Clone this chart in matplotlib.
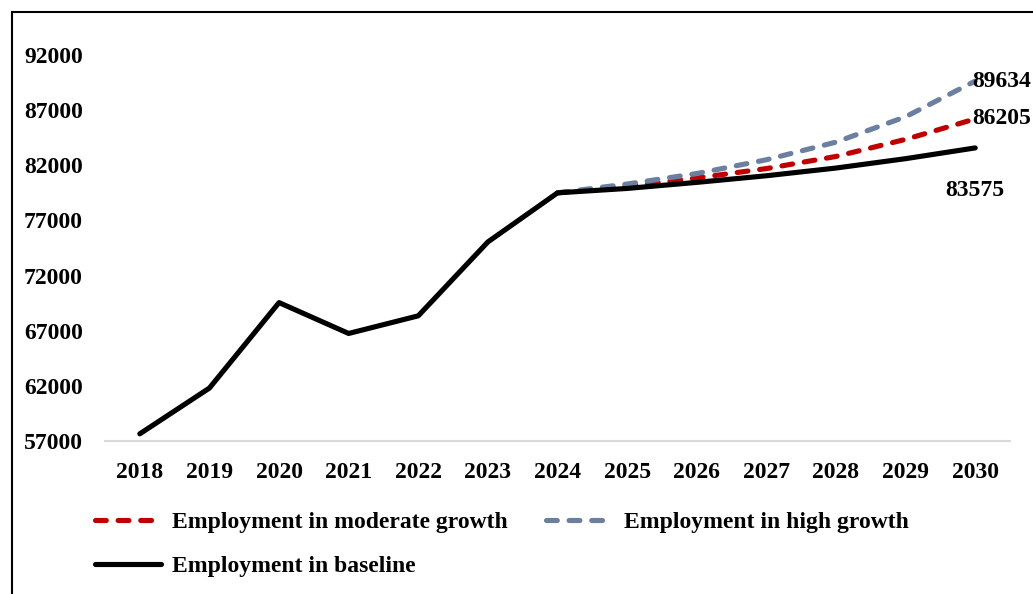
import matplotlib.pyplot as plt
from matplotlib.patches import Rectangle

plt.rcParams['font.family'] = ['Liberation Serif', 'DejaVu Serif']
plt.rcParams['font.weight'] = 'bold'

years = ['2018', '2019', '2020', '2021', '2022', '2023', '2024',
         '2025', '2026', '2027', '2028', '2029', '2030']
baseline = [57650, 61800, 69550, 66750, 68350, 75050, 79500,
            79900, 80450, 81050, 81750, 82600, 83575]
moderate = [79500, 80100, 80850, 81700, 82800, 84350, 86205]
high = [79500, 80300, 81250, 82500, 84100, 86400, 89634]

x = list(range(len(years)))
xp = x[len(years) - len(moderate):]

fig = plt.figure(figsize=(10.33, 5.94), dpi=100)
ax = fig.add_axes([105/1033, 153/594, 905/1033, 386/594])

dash = dict(linestyle=(0, (2.1, 2.3)), dash_capstyle='round', linewidth=3.7)
l_mod, = ax.plot(xp, moderate, color='#C00000', label='Employment in moderate growth', **dash)
l_high, = ax.plot(xp, high, color='#6B80A0', label='Employment in high growth', **dash)
l_base, = ax.plot(x, baseline, color='black', linewidth=3.7, solid_capstyle='round',
                  label='Employment in baseline', zorder=3)

ax.set_xlim(-0.5, len(years) - 0.5)
ax.set_xticks(x)
ax.set_xticklabels(years)
ax.set_ylim(57000, 92000)
ax.set_yticks(range(57000, 92001, 5000))
for s in ['top', 'right', 'left']:
    ax.spines[s].set_visible(False)
ax.spines['bottom'].set_color('#d9d9d9')
ax.spines['bottom'].set_linewidth(1.5)
ax.tick_params(length=0, labelsize=17)
ax.tick_params(axis='y', pad=16)
ax.tick_params(axis='x', pad=15)

ax.annotate(f'{high[-1]}', (x[-1], high[-1]), xytext=(-2, 0),
            textcoords='offset points', ha='left', va='center', fontsize=17, annotation_clip=False)
ax.annotate(f'{moderate[-1]}', (x[-1], moderate[-1]), xytext=(-2, 0),
            textcoords='offset points', ha='left', va='center', fontsize=17, annotation_clip=False)
ax.annotate(f'{baseline[-1]}', (x[-1], baseline[-1]), xytext=(0, -31),
            textcoords='offset points', ha='center', va='center', fontsize=17)

ax.legend(handles=[l_mod, l_base, l_high], ncol=2, loc='upper left',
          bbox_to_anchor=(-0.035, -0.128), frameon=False, fontsize=17,
          handlelength=2.8, handletextpad=0.5, columnspacing=1.6, labelspacing=0.95)

fig.patches.append(Rectangle((12/1033, -0.5), 2, 0.5 + 1 - 12/594, transform=fig.transFigure,
                             fill=False, edgecolor='black', linewidth=1.5))

fig.savefig('out.png', dpi=100)
